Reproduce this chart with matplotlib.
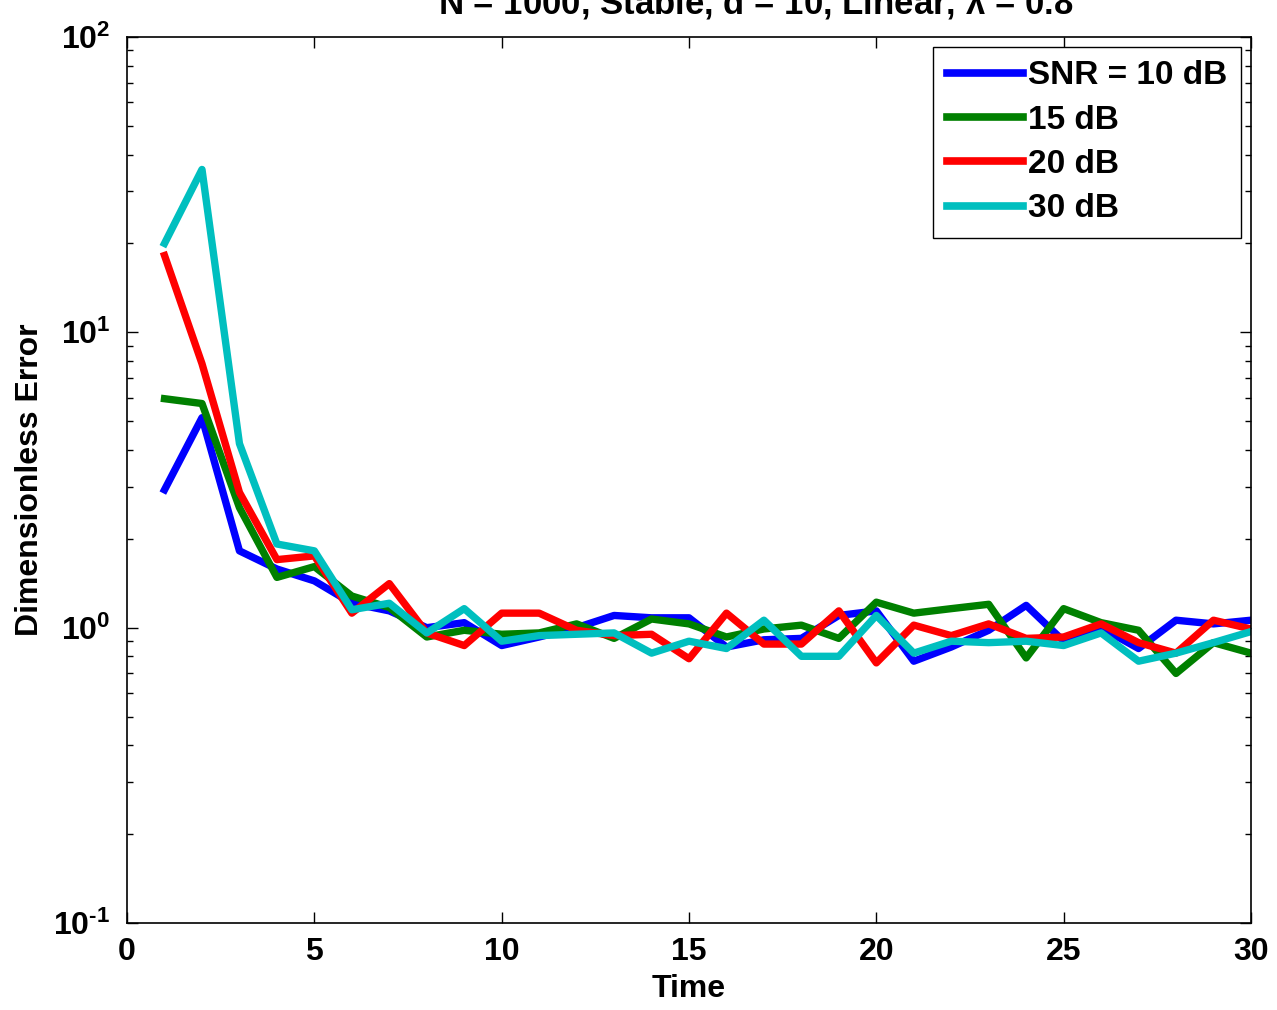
import matplotlib
matplotlib.use("Agg")
import matplotlib.pyplot as plt
import numpy as np
from matplotlib.ticker import LogLocator, FixedLocator, NullFormatter

plt.rcParams['font.family'] = ['Liberation Sans', 'DejaVu Sans']
plt.rcParams['font.weight'] = 'bold'
plt.rcParams['mathtext.fontset'] = 'custom'
plt.rcParams['mathtext.rm'] = 'Liberation Sans:bold'
plt.rcParams['mathtext.bf'] = 'Liberation Sans:bold'
plt.rcParams['mathtext.default'] = 'bf'

# data
time = np.arange(1, 31)
snr_10 = [2.93, 5.14, 1.82, 1.58, 1.44, 1.21, 1.14, 1.00, 1.04, 0.87,
          0.93, 1.00, 1.10, 1.08, 1.08, 0.86, 0.91, 0.92, 1.10, 1.14,
          0.77, 0.86, 0.98, 1.19, 0.90, 1.00, 0.85, 1.06, 1.03, 1.06]
snr_15 = [5.96, 5.74, 2.55, 1.48, 1.61, 1.28, 1.17, 0.93, 0.98, 0.95,
          0.96, 1.03, 0.92, 1.07, 1.03, 0.93, 0.99, 1.02, 0.92, 1.22,
          1.12, 1.16, 1.20, 0.79, 1.16, 1.04, 0.98, 0.70, 0.89, 0.82]
snr_20 = [18.2, 7.83, 2.87, 1.70, 1.75, 1.12, 1.41, 0.96, 0.87, 1.12,
          1.12, 0.98, 0.94, 0.95, 0.785, 1.12, 0.88, 0.88, 1.14, 0.76,
          1.02, 0.94, 1.03, 0.92, 0.93, 1.03, 0.89, 0.82, 1.06, 0.99]
snr_30 = [20.0, 35.6, 4.2, 1.92, 1.82, 1.15, 1.21, 0.96, 1.16, 0.90,
          0.94, 0.95, 0.96, 0.82, 0.90, 0.85, 1.06, 0.80, 0.80, 1.10,
          0.82, 0.90, 0.89, 0.90, 0.87, 0.96, 0.77, 0.82, 0.89, 0.97]
series = [snr_10, snr_15, snr_20, snr_30]
labels = ['SNR = 10 dB', '15 dB', '20 dB', '30 dB']
colors = ['#0000ff', '#008000', '#ff0000', '#00bfbf']
ytick_vals = [0.1, 1, 10, 100]
ytick_labels = [r'$10^{\text{-1}}$', r'$10^{0}$', r'$10^{1}$', r'$10^{2}$']

fig = plt.figure(figsize=(12.77, 10.10), dpi=100)
ax = fig.add_axes([0.0995, 0.0861, 0.8801, 0.8773])

for vals, lab, col in zip(series, labels, colors):
    ax.plot(time, vals, color=col, linewidth=5.3, label=lab)

ax.set_yscale('log')
ax.set_xlim(0, 30)
ax.set_ylim(0.1, 100)
ax.set_xticks([0, 5, 10, 15, 20, 25, 30])
ax.yaxis.set_major_locator(FixedLocator(ytick_vals))
ax.set_yticklabels(ytick_labels)
ax.yaxis.set_minor_locator(LogLocator(base=10, subs=np.arange(2, 10)))
ax.yaxis.set_minor_formatter(NullFormatter())

ax.tick_params(which='both', direction='in', top=True, right=True,
               labelsize=23, width=1)
ax.tick_params(which='major', length=8)
ax.tick_params(axis='x', which='major', pad=10)
ax.tick_params(axis='y', which='major', pad=12)
ax.tick_params(which='minor', length=4)
for s in ax.spines.values():
    s.set_linewidth(1.2)

ax.set_xlabel('Time', fontsize=23, fontweight='bold', labelpad=5)
ax.set_ylabel('Dimensionless Error', fontsize=23, fontweight='bold', labelpad=6)
ax.set_title(r'N = 1000, Stable, d = 10, Linear, $\lambda$ = 0.8',
             fontsize=25, fontweight='bold', pad=17, x=0.559)

leg = ax.legend(loc='upper right', fontsize=24, handlelength=2.3,
                handletextpad=0.15, borderpad=0.4, labelspacing=0.4,
                borderaxespad=0.3, fancybox=False, framealpha=1,
                edgecolor='black')
leg.get_frame().set_linewidth(1.0)
for line in leg.get_lines():
    line.set_linewidth(5.5)

fig.savefig('out.png', dpi=100)
